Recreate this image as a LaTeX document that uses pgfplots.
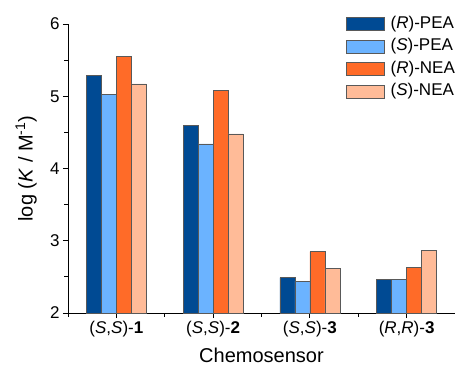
\documentclass[border=0pt]{standalone}
\usepackage{pgfplots}
\pgfplotsset{compat=1.18}
\usepackage{fontspec}
\setmainfont{Liberation Sans}
\definecolor{cA}{RGB}{0,74,147}
\definecolor{cB}{RGB}{107,179,255}
\definecolor{cC}{RGB}{255,107,40}
\definecolor{cD}{RGB}{255,187,152}
\begin{document}
\begin{tikzpicture}
\begin{axis}[
  scale only axis, width=387pt, height=289pt,
  xmin=0.5, xmax=4.5, ymin=2, ymax=6,
  axis lines*=left,
  axis line style={-, line width=0.8pt},
  ybar=0pt, bar width=15pt,
  xtick={1,2,3,4},
  xticklabels={{(\textit{S},\textit{S})-\textbf{1}},{(\textit{S},\textit{S})-\textbf{2}},{(\textit{S},\textit{S})-\textbf{3}},{(\textit{R},\textit{R})-\textbf{3}}},
  minor xtick={0.5,1.5,2.5,3.5,4.5},
  ytick={2,3,4,5,6},
  minor ytick={2.5,3.5,4.5,5.5},
  tick align=outside,
  major tick length=5pt, minor tick length=3.5pt,
  every tick/.style={black, line width=0.8pt},
  /pgf/number format/assume math mode=true,
  ticklabel style={font=\fontsize{17}{20}\selectfont},
  xlabel={Chemosensor},
  ylabel={log (\textit{K} / M\textsuperscript{-1})},
  label style={font=\fontsize{20}{24}\selectfont},
  xlabel style={at={(axis description cs:0.5,-0.1696)}, anchor=base},
  ylabel style={at={(axis description cs:-0.108,0.5)}, anchor=center},
  legend style={at={(axis description cs:0.718,1.031)}, anchor=north west,
    draw=none, fill=none, inner sep=0pt, row sep=5pt,
    font=\fontsize{17}{20}\selectfont,
    nodes={inner sep=1pt, text height=12pt, text depth=3.5pt}},
  legend cell align=left,
  legend image code/.code={\draw[#1, draw=black!65, line width=0.6pt] (0pt,-6.5pt) rectangle (38pt,6.5pt); \path (43pt,0pt);},
  every axis plot/.append style={draw=black!65, line width=0.6pt},
]
\addplot[fill=cA] coordinates {(1,5.29) (2,4.60) (3,2.49) (4,2.47)};
\addplot[fill=cB] coordinates {(1,5.03) (2,4.34) (3,2.44) (4,2.47)};
\addplot[fill=cC] coordinates {(1,5.55) (2,5.08) (3,2.85) (4,2.63)};
\addplot[fill=cD] coordinates {(1,5.17) (2,4.48) (3,2.62) (4,2.87)};
\legend{(\textit{R})-PEA,(\textit{S})-PEA,(\textit{R})-NEA,(\textit{S})-NEA}
\end{axis}
\pgfresetboundingbox
\path (-68pt,-54pt) rectangle (387pt,313pt);
\end{tikzpicture}
\end{document}
